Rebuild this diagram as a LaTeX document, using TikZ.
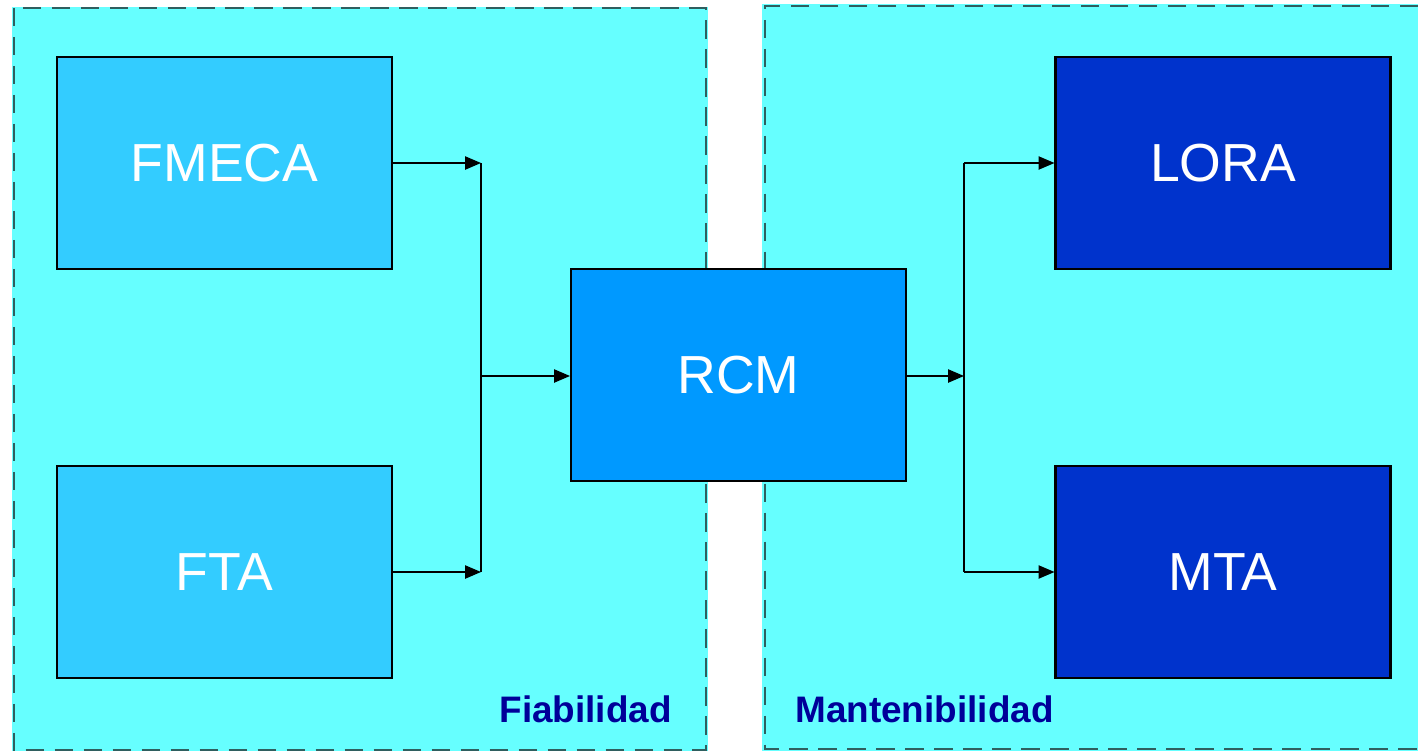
\documentclass[tikz,border=0pt]{standalone}
\usepackage{fontspec}
\setmainfont{Liberation Sans}
\usetikzlibrary{arrows.meta}
\definecolor{panelcyan}{HTML}{66FFFF}
\definecolor{boxlight}{HTML}{33CCFF}
\definecolor{boxmid}{HTML}{0099FF}
\definecolor{boxdark}{HTML}{0033CC}
\definecolor{labelblue}{HTML}{000099}
\definecolor{dashgray}{HTML}{2F5F5F}

\begin{document}
\begin{tikzpicture}[x=0.02cm,y=-0.02cm,
    panel/.style={draw=dashgray,line width=0.8pt,dash pattern=on 10.5pt off 6pt},
    block/.style={draw=black,line width=1.2pt,minimum width=6.7cm,minimum height=4.24cm,
      text=white,font=\fontsize{30.5}{36}\selectfont},
    conn/.style={line width=0.8pt,-{Triangle[length=9pt,width=7.5pt]}},
    area/.style={text=labelblue,font=\fontsize{21}{25}\selectfont\bfseries,inner sep=0pt}]
      \useasboundingbox (0,0) rectangle (1418,751);
      % panels
      \fill[panelcyan] (12,7) rectangle (708,751);
      \fill[panelcyan] (762,4) rectangle (1418,751);
      \draw[panel] (14,8) rectangle (706,750);
      \draw[panel] (1418,6) -- (765,6) -- (765,749) -- (1418,749);
      % blocks
      \node[block,fill=boxlight] (fmeca) at (224.5,163) {FMECA};
      \node[block,fill=boxlight] (fta) at (224.5,572) {FTA};
      \node[block,fill=boxmid] (rcm) at (738.5,375) {RCM};
      \node[block,fill=boxdark] (lora) at (1223,163) {LORA};
      \node[block,fill=boxdark] (mta) at (1223,572) {MTA};
      \coordinate (jl) at (481,376);
      \coordinate (jr) at (964,376);
      % connectors
      \draw[conn] (fmeca.east) -- (fmeca.east -| jl);
      \draw[conn] (fta.east) -- (fta.east -| jl);
      \draw[line width=0.8pt] (fmeca.east -| jl) -- (fta.east -| jl);
      \draw[conn] (jl) -- (rcm.west |- jl);
      \draw[conn] (rcm.east |- jr) -- (jr);
      \draw[line width=0.8pt] (lora.west -| jr) -- (mta.west -| jr);
      \draw[conn] (lora.west -| jr) -- (lora.west);
      \draw[conn] (mta.west -| jr) -- (mta.west);
      % labels
      \node[area,anchor=base east] (fiab) at (672,722) {Fiabilidad};
      \node[area,anchor=base west] (mant) at (795,722) {Mantenibilidad};
\end{tikzpicture}
\end{document}
